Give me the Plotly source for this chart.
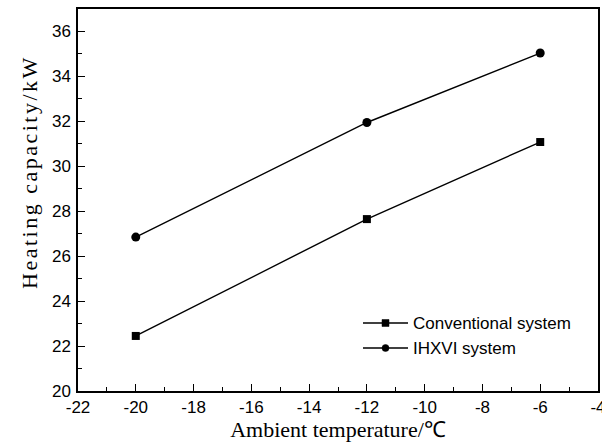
import plotly.graph_objects as go

# Ambient temperature (°C) and heating capacity (kW)
temps = [-20, -12, -6]
conventional = [22.45, 27.65, 31.08]
ihxvi = [26.85, 31.95, 35.04]

series_names = ["Conventional system", "IHXVI system"]
series_symbols = ["square", "circle"]

x_ticks = list(range(-22, -3, 2))
y_ticks = list(range(20, 37, 2))

fig = go.Figure()
fig.add_trace(go.Scatter(
    x=temps, y=conventional, name=series_names[0],
    mode="lines+markers",
    line=dict(color="black", width=1.4),
    marker=dict(symbol="square", size=8, color="black"),
    showlegend=False,
))
fig.add_trace(go.Scatter(
    x=temps, y=ihxvi, name=series_names[1],
    mode="lines+markers",
    line=dict(color="black", width=1.4),
    marker=dict(symbol="circle", size=9, color="black"),
    showlegend=False,
))

axis_common = dict(
    showgrid=False, zeroline=False, automargin=False,
    showline=True, linecolor="black", linewidth=1.5, mirror=True,
    ticks="inside", ticklen=7, tickwidth=1.3, tickcolor="black",
    tickfont=dict(family="Liberation Sans, Arial", size=17, color="black"),
    minor=dict(ticks="inside", ticklen=4, tickwidth=1.3, tickcolor="black", dtick=1),
)

fig.update_xaxes(
    range=[-22, -4], tickvals=x_ticks, ticktext=[str(v) for v in x_ticks],
    ticklabeloverflow="allow",
    title=dict(text="Ambient temperature/℃", standoff=4,
               font=dict(family="Liberation Serif, Times New Roman", size=22, color="black")),
    **axis_common,
)
fig.update_yaxes(
    range=[20, 37], tickvals=y_ticks, ticktext=[str(v) for v in y_ticks],
    ticklabelstandoff=2,
    **axis_common,
)

# Plot-area geometry in pixels, used to place the title and legend in paper units
PLOT_L, PLOT_R, PLOT_T, PLOT_B = 78, 598, 9, 391
def px_x(px):
    return (px - PLOT_L) / (PLOT_R - PLOT_L)
def px_y(py):
    return (PLOT_B - py) / (PLOT_B - PLOT_T)

fig.add_annotation(
    text='<span style="letter-spacing:2.5px">Heating capacity/kW</span>',
    xref="paper", yref="paper", x=px_x(29), y=px_y(172),
    xanchor="center", yanchor="middle", textangle=-90, showarrow=False,
    font=dict(family="Liberation Serif, Times New Roman", size=22, color="black"),
)

# Legend: sample line, marker and label per series
legend_x0, legend_x1 = px_x(363), px_x(408)
legend_rows = [px_y(323), px_y(348)]
for name, symbol, ypos in zip(series_names, series_symbols, legend_rows):
    fig.add_shape(type="line", xref="paper", yref="paper",
                  x0=legend_x0, x1=legend_x1, y0=ypos, y1=ypos,
                  line=dict(color="black", width=1.4))
    xc = (legend_x0 + legend_x1) / 2
    fig.add_shape(type="rect" if symbol == "square" else "circle",
                  xref="paper", yref="paper", xsizemode="pixel", ysizemode="pixel",
                  xanchor=xc, yanchor=ypos, x0=-3.5, x1=3.5, y0=-3.5, y1=3.5,
                  fillcolor="black", line=dict(color="black", width=0.5))
    fig.add_annotation(text=name, xref="paper", yref="paper",
                       x=px_x(411), y=ypos, xanchor="left", yanchor="middle",
                       showarrow=False,
                       font=dict(family="Liberation Sans, Arial", size=17, color="black"))

fig.update_layout(
    width=602, height=443,
    margin=dict(l=PLOT_L, r=602 - PLOT_R, t=PLOT_T, b=443 - PLOT_B),
    paper_bgcolor="white", plot_bgcolor="white",
    showlegend=False,
)

fig.write_html("out.html")
